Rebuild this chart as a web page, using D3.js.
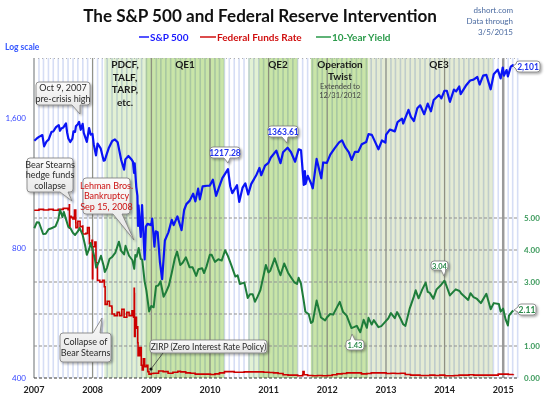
<!DOCTYPE html>
<html><head><meta charset="utf-8">
<script src="https://cdn.jsdelivr.net/npm/d3@7"></script>
<style>
body{margin:0;background:#fff;}
svg text{font-family:Lato,"Open Sans",sans-serif;}
</style></head>
<body><svg id="c" width="550" height="400"></svg>
<script>
// ---------- DATA ----------
const sp500 = [
["2007-01-03",1416],["2007-01-17",1431],["2007-02-01",1445],["2007-02-22",1459],["2007-03-05",1374],["2007-03-20",1410],["2007-04-02",1424],["2007-04-20",1484],["2007-05-01",1487],["2007-05-18",1522],["2007-06-04",1539],["2007-06-12",1493],["2007-06-20",1512],["2007-07-02",1519],["2007-07-19",1553],["2007-07-26",1482],["2007-08-03",1433],["2007-08-15",1406],["2007-08-28",1432],["2007-09-04",1489],["2007-09-14",1484],["2007-09-19",1529],["2007-10-01",1547],["2007-10-09",1565],["2007-10-19",1501],["2007-10-31",1549],["2007-11-07",1476],["2007-11-26",1407],["2007-12-10",1515],["2007-12-20",1463],["2007-12-31",1468],
["2008-01-08",1390],["2008-01-22",1310],["2008-02-01",1395],["2008-02-20",1360],["2008-03-10",1273],["2008-03-17",1276],["2008-03-28",1315],["2008-04-10",1360],["2008-05-02",1414],["2008-05-19",1426],["2008-06-05",1404],["2008-06-27",1278],["2008-07-15",1214],["2008-07-23",1282],["2008-08-11",1305],["2008-08-29",1283],["2008-09-08",1267],["2008-09-15",1193],["2008-09-19",1255],["2008-09-29",1106],["2008-10-06",1056],["2008-10-10",899],["2008-10-13",1003],["2008-10-27",848],["2008-11-04",1005],["2008-11-20",752],["2008-11-28",896],["2008-12-08",909],["2008-12-31",903],
["2009-01-06",935],["2009-01-20",805],["2009-01-28",874],["2009-02-09",870],["2009-02-23",743],["2009-03-09",677],["2009-03-26",832],["2009-04-17",869],["2009-05-08",929],["2009-05-20",903],["2009-06-12",946],["2009-07-08",879],["2009-07-24",979],["2009-08-07",1010],["2009-08-28",1029],["2009-09-18",1068],["2009-10-02",1025],["2009-10-19",1097],["2009-10-30",1036],["2009-11-16",1110],["2009-12-14",1114],["2009-12-31",1115],
["2010-01-19",1150],["2010-02-08",1056],["2010-02-26",1104],["2010-03-19",1160],["2010-04-23",1217],["2010-05-07",1111],["2010-05-20",1071],["2010-06-18",1117],["2010-07-02",1022],["2010-07-23",1103],["2010-08-09",1128],["2010-08-27",1064],["2010-09-15",1125],["2010-10-15",1176],["2010-11-05",1225],["2010-11-16",1178],["2010-12-10",1240],["2010-12-31",1258],
["2011-01-14",1293],["2011-02-18",1343],["2011-03-16",1256],["2011-04-01",1332],["2011-04-29",1364],["2011-05-20",1333],["2011-06-15",1266],["2011-07-07",1353],["2011-07-22",1345],["2011-08-08",1119],["2011-08-15",1204],["2011-08-19",1124],["2011-09-02",1174],["2011-09-22",1129],["2011-10-03",1099],["2011-10-27",1285],["2011-11-25",1159],["2011-12-07",1261],["2011-12-30",1258],
["2012-01-20",1315],["2012-02-17",1361],["2012-03-15",1403],["2012-04-02",1419],["2012-04-23",1366],["2012-05-15",1330],["2012-06-01",1278],["2012-06-22",1335],["2012-07-12",1334],["2012-08-03",1390],["2012-08-31",1407],["2012-09-14",1466],["2012-10-05",1461],["2012-10-23",1413],["2012-11-15",1353],["2012-12-07",1418],["2012-12-28",1402],
["2013-01-02",1462],["2013-01-25",1503],["2013-02-25",1488],["2013-03-14",1563],["2013-04-11",1593],["2013-04-18",1552],["2013-05-21",1669],["2013-06-05",1608],["2013-06-24",1573],["2013-07-15",1683],["2013-08-02",1710],["2013-08-27",1631],["2013-09-18",1725],["2013-10-08",1656],["2013-10-25",1759],["2013-11-27",1807],["2013-12-12",1775],["2013-12-31",1848],
["2014-01-15",1848],["2014-02-03",1742],["2014-02-28",1859],["2014-03-14",1841],["2014-04-02",1890],["2014-04-11",1815],["2014-05-13",1897],["2014-06-09",1951],["2014-06-30",1960],["2014-07-24",1988],["2014-08-07",1910],["2014-08-29",2003],["2014-09-18",2011],["2014-10-15",1862],["2014-11-03",2017],["2014-11-28",2068],["2014-12-16",1973],["2014-12-29",2091],
["2015-01-06",2003],["2015-01-22",2063],["2015-01-30",1995],["2015-02-17",2100],["2015-03-02",2117],["2015-03-05",2101]
];
const fedFunds = [
["2007-01-02",5.24],["2007-02-01",5.27],["2007-03-01",5.25],["2007-04-02",5.27],["2007-05-01",5.24],["2007-06-01",5.27],["2007-07-02",5.30],["2007-08-01",5.26],["2007-08-09",5.41],["2007-08-10",4.68],["2007-08-13",5.05],["2007-08-20",5.02],["2007-08-31",4.97],["2007-09-10",5.25],["2007-09-18",4.85],["2007-09-19",4.70],["2007-10-01",4.90],["2007-10-15",4.73],["2007-10-31",4.75],["2007-11-01",4.50],["2007-11-20",4.52],["2007-11-30",4.70],["2007-12-11",4.45],["2007-12-12",4.20],["2007-12-28",4.30],["2007-12-31",3.10],
["2008-01-02",4.10],["2008-01-15",4.25],["2008-01-22",3.60],["2008-01-31",3.05],["2008-02-15",3.00],["2008-03-03",3.05],["2008-03-14",2.85],["2008-03-19",2.30],["2008-04-01",2.40],["2008-04-15",2.25],["2008-04-30",2.20],["2008-05-01",2.00],["2008-05-15",1.95],["2008-06-02",2.05],["2008-06-16",1.95],["2008-07-01",2.15],["2008-07-15",1.90],["2008-08-01",2.05],["2008-08-15",1.95],["2008-09-02",2.10],["2008-09-12",1.90],["2008-09-16",2.80],["2008-09-17",2.64],["2008-09-18",1.30],["2008-09-22",1.90],["2008-09-30",1.56],["2008-10-01",1.60],["2008-10-08",1.10],["2008-10-10",0.70],["2008-10-20",0.95],["2008-10-30",0.40],["2008-11-05",0.25],["2008-11-12",0.60],["2008-11-20",0.35],["2008-12-01",0.40],["2008-12-10",0.20],["2008-12-17",0.12],["2008-12-31",0.14],
["2009-01-15",0.15],["2009-02-15",0.22],["2009-03-15",0.20],["2009-04-15",0.15],["2009-05-15",0.18],["2009-06-15",0.21],["2009-07-01",0.19],["2009-08-03",0.16],["2009-09-01",0.15],["2009-10-01",0.12],["2009-11-02",0.12],["2009-12-01",0.12],
["2010-01-04",0.11],["2010-02-01",0.13],["2010-03-01",0.16],["2010-04-01",0.20],["2010-05-03",0.20],["2010-06-01",0.18],["2010-07-01",0.18],["2010-08-02",0.19],["2010-09-01",0.19],["2010-10-01",0.19],["2010-11-01",0.19],["2010-12-01",0.18],
["2011-01-03",0.17],["2011-02-01",0.16],["2011-03-01",0.14],["2011-04-01",0.10],["2011-05-02",0.09],["2011-06-01",0.09],["2011-07-01",0.07],["2011-08-01",0.10],["2011-08-03",0.20],["2011-08-10",0.10],["2011-09-01",0.08],["2011-10-03",0.07],["2011-11-01",0.08],["2011-12-01",0.07],
["2012-01-03",0.08],["2012-02-01",0.10],["2012-03-01",0.13],["2012-04-02",0.14],["2012-05-01",0.16],["2012-06-01",0.16],["2012-07-02",0.16],["2012-08-01",0.13],["2012-09-04",0.14],["2012-10-01",0.16],["2012-11-01",0.16],["2012-12-03",0.16],
["2013-01-02",0.14],["2013-02-01",0.15],["2013-03-01",0.14],["2013-04-01",0.15],["2013-05-01",0.11],["2013-06-03",0.09],["2013-07-01",0.09],["2013-08-01",0.08],["2013-09-03",0.08],["2013-10-01",0.09],["2013-11-01",0.08],["2013-12-02",0.09],
["2014-01-02",0.07],["2014-02-03",0.07],["2014-03-03",0.08],["2014-04-01",0.09],["2014-05-01",0.09],["2014-06-02",0.10],["2014-07-01",0.09],["2014-08-01",0.09],["2014-09-02",0.09],["2014-10-01",0.09],["2014-11-03",0.09],["2014-12-01",0.12],
["2015-01-02",0.12],["2015-02-02",0.11],["2015-03-05",0.12]
];
const tenYear = [
["2007-01-03",4.68],["2007-01-19",4.87],["2007-02-01",4.86],["2007-02-27",4.50],["2007-03-15",4.51],["2007-04-02",4.65],["2007-04-20",4.68],["2007-05-15",4.74],["2007-06-01",4.95],["2007-06-12",5.26],["2007-06-27",5.03],["2007-07-06",5.19],["2007-07-20",4.95],["2007-08-03",4.72],["2007-08-16",4.68],["2007-08-31",4.54],["2007-09-14",4.47],["2007-10-01",4.58],["2007-10-12",4.69],["2007-10-31",4.47],["2007-11-15",4.15],["2007-11-26",3.85],["2007-12-11",4.04],["2007-12-20",4.22],["2007-12-31",4.03],
["2008-01-15",3.72],["2008-01-23",3.45],["2008-02-08",3.62],["2008-02-22",3.82],["2008-03-10",3.50],["2008-03-17",3.31],["2008-03-31",3.45],["2008-04-15",3.72],["2008-05-01",3.78],["2008-05-22",3.92],["2008-06-13",4.26],["2008-06-27",3.97],["2008-07-15",3.86],["2008-07-24",4.13],["2008-08-15",3.82],["2008-09-05",3.68],["2008-09-16",3.41],["2008-09-23",3.84],["2008-10-01",3.79],["2008-10-14",4.06],["2008-10-27",3.72],["2008-11-05",3.70],["2008-11-20",3.01],["2008-12-01",2.73],["2008-12-18",2.08],["2008-12-31",2.25],
["2009-01-15",2.21],["2009-01-30",2.87],["2009-02-13",2.89],["2009-02-27",3.02],["2009-03-18",2.54],["2009-04-01",2.67],["2009-04-20",2.89],["2009-05-08",3.29],["2009-05-27",3.74],["2009-06-10",3.95],["2009-06-30",3.53],["2009-07-15",3.60],["2009-08-04",3.77],["2009-08-27",3.46],["2009-09-15",3.46],["2009-10-07",3.19],["2009-10-21",3.40],["2009-11-13",3.43],["2009-11-25",3.28],["2009-12-10",3.48],["2009-12-31",3.85],
["2010-01-11",3.85],["2010-02-01",3.63],["2010-02-22",3.71],["2010-03-15",3.67],["2010-04-05",3.99],["2010-04-23",3.81],["2010-05-12",3.55],["2010-06-08",3.17],["2010-06-22",3.21],["2010-07-06",2.94],["2010-08-03",2.98],["2010-08-24",2.50],["2010-09-07",2.62],["2010-09-24",2.62],["2010-10-08",2.38],["2010-10-25",2.55],["2010-11-11",2.75],["2010-12-15",3.53],["2010-12-31",3.30],
["2011-01-11",3.35],["2011-02-08",3.74],["2011-03-01",3.42],["2011-03-16",3.21],["2011-04-08",3.58],["2011-05-02",3.29],["2011-05-20",3.15],["2011-06-10",2.99],["2011-06-27",2.94],["2011-07-07",3.13],["2011-07-21",2.96],["2011-08-08",2.40],["2011-08-18",2.07],["2011-09-08",1.99],["2011-09-22",1.72],["2011-10-03",1.76],["2011-10-27",2.42],["2011-11-23",1.89],["2011-12-19",1.80],["2011-12-30",1.89],
["2012-01-19",2.00],["2012-02-07",1.98],["2012-03-19",2.38],["2012-04-09",2.06],["2012-05-01",1.95],["2012-05-31",1.56],["2012-06-15",1.59],["2012-07-03",1.63],["2012-07-25",1.43],["2012-08-15",1.82],["2012-09-04",1.57],["2012-09-14",1.88],["2012-10-04",1.67],["2012-10-17",1.81],["2012-11-15",1.59],["2012-12-03",1.62],["2012-12-31",1.78],
["2013-01-15",1.86],["2013-02-01",2.03],["2013-02-25",1.87],["2013-03-11",2.06],["2013-04-02",1.85],["2013-04-18",1.68],["2013-05-02",1.63],["2013-05-28",2.16],["2013-06-24",2.55],["2013-07-05",2.74],["2013-07-23",2.49],["2013-08-15",2.77],["2013-09-05",2.98],["2013-09-18",2.69],["2013-10-01",2.66],["2013-10-23",2.48],["2013-11-12",2.77],["2013-12-05",2.88],["2013-12-31",3.04],
["2014-01-14",2.86],["2014-02-03",2.58],["2014-02-25",2.70],["2014-03-11",2.77],["2014-04-04",2.72],["2014-04-16",2.63],["2014-05-28",2.44],["2014-06-11",2.65],["2014-06-30",2.53],["2014-07-22",2.47],["2014-08-15",2.34],["2014-09-18",2.63],["2014-10-15",2.15],["2014-11-03",2.34],["2014-12-05",2.31],["2014-12-16",2.07],["2014-12-31",2.17],
["2015-01-16",1.83],["2015-01-30",1.64],["2015-02-06",1.95],["2015-02-23",2.06],["2015-03-05",2.11]
];
const leftTicks = [400, 800, 1600];
const leftTickLabels = ["400", "800", "1,600"];
const rightTicks = [0, 1, 2, 3, 4, 5];
const yearTicks = [2007, 2008, 2009, 2010, 2011, 2012, 2013, 2014, 2015];
const bandStarts = ["2008-03-14","2008-11-25","2010-08-27","2010-11-03","2011-09-21","2012-09-13"];
const bandEnds   = ["2008-11-25","2010-03-31","2010-11-03","2011-06-30","2012-09-13","2014-10-29"];
const bandKinds  = ["light","strong","light","strong","strong","pale"];

// ---------- SETUP ----------
const parse = d3.timeParse("%Y-%m-%d");
const svg = d3.select("#c");
const X0 = 34, X1 = 517.5, YT = 58, YB = 378;
const x = d3.scaleTime().domain([new Date(2007,0,1), new Date(2015,2,31)]).range([X0, X1]);
const yL = d3.scaleLog().domain([400, 2200]).range([YB, YT]);
const yR = d3.scaleLinear().domain([0, 10]).range([YB, YT]);

const defs = svg.append("defs");
const f = defs.append("filter").attr("id","sh").attr("x","-20%").attr("y","-20%").attr("width","150%").attr("height","160%");
f.append("feDropShadow").attr("dx",1.5).attr("dy",1.5).attr("stdDeviation",0.9).attr("flood-color","#000").attr("flood-opacity",0.35);
const g1 = defs.append("linearGradient").attr("id","gb").attr("x1",0).attr("y1",0).attr("x2",0).attr("y2",1);
g1.append("stop").attr("offset","0%").attr("stop-color","#fbfbfb");
g1.append("stop").attr("offset","100%").attr("stop-color","#e4e4e4");

// bands
const bandColor = {light:"#e2f1d4", strong:"#c9e5a8", pale:"#e4ebd4"};
svg.append("g").selectAll("rect").data(bandStarts.map((s,i)=>({s:parse(s),e:parse(bandEnds[i]),k:bandKinds[i]})))
  .join("rect").attr("x",d=>x(d.s)).attr("width",d=>x(d.e)-x(d.s)).attr("y",YT).attr("height",YB-YT)
  .attr("fill",d=>bandColor[d.k]);

// month stripes
const months = d3.timeMonth.range(new Date(2007,0,1), new Date(2015,3,2));
svg.append("g").selectAll("line").data(months).join("line")
  .attr("x1",d=>x(d)).attr("x2",d=>x(d)).attr("y1",YT).attr("y2",YB)
  .attr("stroke","#d6def5").attr("stroke-width",1.6).style("mix-blend-mode","multiply");

// year lines
svg.append("g").selectAll("line").data(yearTicks).join("line")
  .attr("x1",d=>x(new Date(d,0,1))).attr("x2",d=>x(new Date(d,0,1))).attr("y1",YT).attr("y2",YB)
  .attr("stroke",d=>d===2015?"#9a9a9a":"#8a8a7a").attr("stroke-width",d=>d===2015?2.5:1);

// horizontal dashed grid (right axis)
svg.append("g").selectAll("line").data(rightTicks.filter(d=>d>0)).join("line")
  .attr("x1",X0).attr("x2",X1).attr("y1",d=>yR(d)).attr("y2",d=>yR(d))
  .attr("stroke","#8f8f8f").attr("stroke-width",1).attr("stroke-dasharray","3,2");
svg.append("line").attr("x1",X0).attr("x2",X1).attr("y1",YT+0.5).attr("y2",YT+0.5).attr("stroke","#b0b0b0").attr("stroke-dasharray","1,3");
svg.append("line").attr("x1",X0).attr("x2",X1).attr("y1",YB).attr("y2",YB).attr("stroke","#333").attr("stroke-dasharray","3,2");

// band labels
const lab = svg.append("g").attr("fill","#1a1a1a").attr("font-weight","bold").attr("font-size",10).attr("text-anchor","middle");
["PDCF,","TALF,","TARP,","etc."].forEach((t,i)=>lab.append("text").attr("x",125).attr("y",68+i*12.7).text(t));
lab.append("text").attr("x",185).attr("y",68).text("QE1");
lab.append("text").attr("x",278).attr("y",68).text("QE2");
lab.append("text").attr("x",340).attr("y",68).text("Operation");
lab.append("text").attr("x",340).attr("y",80).text("Twist");
lab.append("text").attr("x",340).attr("y",89).attr("font-weight","normal").attr("font-size",7.5).attr("fill","#444").text("Extended to");
lab.append("text").attr("x",340).attr("y",98).attr("font-weight","normal").attr("font-size",7.5).attr("fill","#444").text("12/31/2012");
lab.append("text").attr("x",439).attr("y",68).text("QE3");

// lines
const pts = arr => arr.map(d=>[parse(d[0]), d[1]]);
svg.append("path").datum(pts(fedFunds)).attr("fill","none").attr("stroke","#cc0000").attr("stroke-width",1.6)
  .attr("d", d3.line().x(d=>x(d[0])).y(d=>yR(d[1])).curve(d3.curveStepAfter));
svg.append("path").datum(pts(tenYear)).attr("fill","none").attr("stroke","#1e7d3a").attr("stroke-width",2)
  .attr("stroke-linejoin","round").attr("d", d3.line().x(d=>x(d[0])).y(d=>yR(d[1])));
svg.append("path").datum(pts(sp500)).attr("fill","none").attr("stroke","#0a14f5").attr("stroke-width",2.2)
  .attr("stroke-linejoin","round").attr("d", d3.line().x(d=>x(d[0])).y(d=>yL(d[1])));

// axes text
svg.append("g").selectAll("text").data(leftTicks).join("text")
  .attr("x",26).attr("y",d=>yL(d)+3).attr("text-anchor","end").attr("font-size",8).attr("fill","#3344ff")
  .text((d,i)=>leftTickLabels[i]);
// the 2.00 label is hidden behind the "2.11" callout in the reference
svg.append("g").selectAll("text").data(rightTicks.filter(d=>d!==2)).join("text")
  .attr("x",524).attr("y",d=>yR(d)+3).attr("font-size",8).attr("font-weight","bold").attr("fill","#3c9a5c")
  .text(d=>d3.format(".2f")(d));
svg.append("g").selectAll("text").data(yearTicks).join("text")
  .attr("x",d=>x(new Date(d,0,1))).attr("y",393).attr("text-anchor","middle").attr("font-size",9).attr("font-weight","bold").attr("fill","#222")
  .text(d=>d);

// ---------- CALLOUTS ----------
function calloutPath(x0,y0,x1,y1,side,b0,b1,tx,ty){
  const r=3; let p=`M${x0+r},${y0}`;
  if(side==="top") p+=`H${b0}L${tx},${ty}L${b1},${y0}`;
  p+=`H${x1-r}Q${x1},${y0} ${x1},${y0+r}V${y1-r}Q${x1},${y1} ${x1-r},${y1}`;
  if(side==="bottom") p+=`H${b1}L${tx},${ty}L${b0},${y1}`;
  p+=`H${x0+r}Q${x0},${y1} ${x0},${y1-r}`;
  if(side==="left") p+=`V${b1}L${tx},${ty}L${x0},${b0}`;
  p+=`V${y0+r}Q${x0},${y0} ${x0+r},${y0}Z`;
  return p;
}
function callout(o){
  const g = svg.append("g");
  g.append("path").attr("d",calloutPath(o.x0,o.y0,o.x1,o.y1,o.side,o.b0,o.b1,o.tx,o.ty))
   .attr("fill",o.fill||"url(#gb)").attr("stroke","#7a7a7a").attr("stroke-width",0.8).attr("filter","url(#sh)");
  const cx=(o.x0+o.x1)/2, lh=o.lh||10.5;
  const n=o.lines.length, cy=(o.y0+o.y1)/2 - (n-1)*lh/2;
  o.lines.forEach((t,i)=>g.append("text").attr("x",cx).attr("y",cy+i*lh+3.2).attr("text-anchor","middle")
    .attr("font-size",o.fs||9).attr("font-weight",o.bold?"bold":"normal").attr("fill",o.color||"#2a2a2a").text(t));
}
callout({x0:36,y0:82,x1:90,y1:105,side:"bottom",b0:72,b1:80,tx:80,ty:114,lines:["Oct 9, 2007","pre-crisis high"]});
callout({x0:27,y0:158,x1:73,y1:192,side:"bottom",b0:60,b1:68,tx:72,ty:201,lines:["Bear Stearns","hedge funds","collapse"]});
callout({x0:83,y0:178,x1:130,y1:214,side:"bottom",b0:113,b1:122,tx:134,ty:240,color:"#cc1111",lines:["Lehman Bros.","Bankruptcy","Sep 15, 2008"]});
callout({x0:60,y0:333,x1:111,y1:362,side:"top",b0:93,b1:100,tx:102,ty:318,lines:["Collapse of","Bear Stearns"]});
callout({x0:150,y0:340,x1:267,y1:353,lines:["ZIRP (Zero Interest Rate Policy)"],fs:8.5});
svg.append("line").attr("x1",163).attr("y1",353).attr("x2",151).attr("y2",369).attr("stroke","#333").attr("stroke-width",0.8);
svg.append("circle").attr("cx",151).attr("cy",369).attr("r",1.6).attr("fill","#111");
callout({x0:210,y0:147,x1:240,y1:158,side:"bottom",b0:224,b1:230,tx:228,ty:163,fill:"#fff",bold:true,color:"#2233ee",fs:8.5,lines:["1217.28"]});
callout({x0:268,y0:126,x1:298,y1:137,side:"bottom",b0:282,b1:288,tx:287,ty:143,fill:"#fff",bold:true,color:"#2233ee",fs:8.5,lines:["1363.61"]});
callout({x0:516,y0:61,x1:540,y1:72,side:"left",b0:64,b1:69,tx:513,ty:66,fill:"#fff",bold:true,color:"#2233ee",fs:8.5,lines:["2,101"]});
callout({x0:518,y0:304,x1:536,y1:315,side:"left",b0:307,b1:312,tx:514,ty:310,fill:"#fff",bold:true,color:"#2a8a4a",fs:8.5,lines:["2.11"]});
callout({x0:431,y0:261,x1:448,y1:270,side:"bottom",b0:441,b1:446,tx:444,ty:276,fill:"#fff",bold:true,color:"#2a8a4a",fs:7.5,lines:["3.04"]});
callout({x0:346,y0:340,x1:364,y1:350,side:"top",b0:350,b1:355,tx:352,ty:334,fill:"#fff",bold:true,color:"#2a8a4a",fs:7.5,lines:["1.43"]});

// ---------- TITLE / LEGEND ----------
const title = svg.append("text").attr("x",260).attr("y",22).attr("text-anchor","middle").attr("font-size",19).attr("font-weight","bold").attr("fill","#111")
  .text("The S&P 500 and Federal Reserve Intervention");
const tw = title.node().getComputedTextLength();
if (tw > 354) title.attr("font-size", 19 * 354 / tw);
const legend = [["S&P 500","#1a1aff",139,150],["Federal Funds Rate","#d01010",200,217],["10-Year Yield","#2a9a4a",316,332]];
legend.forEach(l=>{
  svg.append("line").attr("x1",l[2]).attr("x2",l[3]-1).attr("y1",37).attr("y2",37).attr("stroke",l[1]).attr("stroke-width",1.5);
  svg.append("text").attr("x",l[3]).attr("y",40.5).attr("font-size",10).attr("font-weight","bold").attr("fill",l[1]).text(l[0]);
});
const src = svg.append("g").attr("text-anchor","end").attr("font-size",8).attr("fill","#4a6aa0");
src.append("text").attr("x",513).attr("y",13).text("dshort.com");
src.append("text").attr("x",513).attr("y",24).text("Data through");
src.append("text").attr("x",513).attr("y",35).text("3/5/2015");
svg.append("text").attr("x",5).attr("y",50).attr("font-size",8.5).attr("font-weight","bold").attr("fill","#3355ff").text("Log scale");
</script></body></html>
